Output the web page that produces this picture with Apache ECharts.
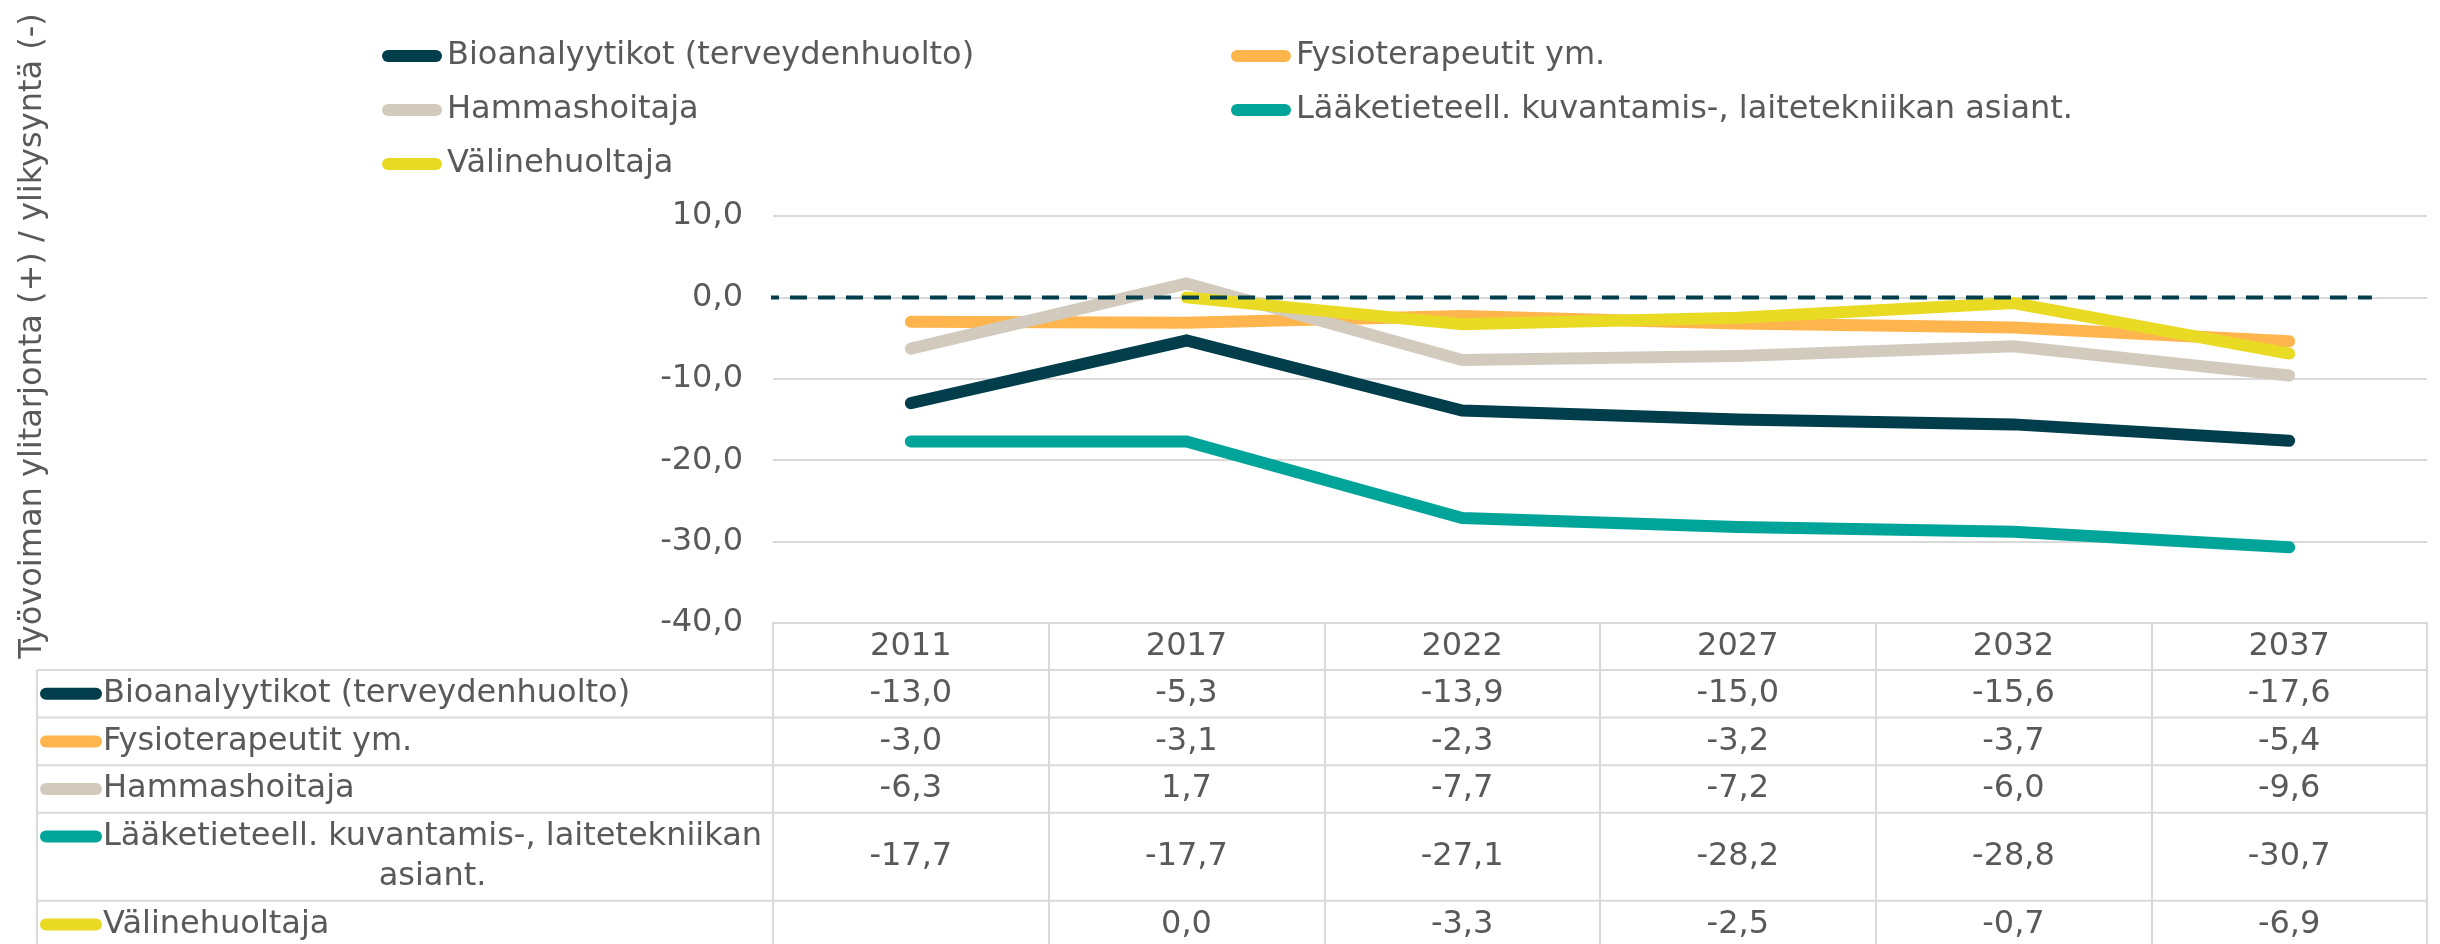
<!DOCTYPE html>
<html><head><meta charset="utf-8">
<script src="https://cdn.jsdelivr.net/npm/echarts@6/dist/echarts.min.js"></script>
<style>html,body{margin:0;padding:0;background:#fff}#c{width:2440px;height:944px}</style>
</head><body><div id="c"></div>
<script>
// ---------- DATA ----------
const years = ['2011', '2017', '2022', '2027', '2032', '2037'];
const seriesNames = [
  'Bioanalyytikot (terveydenhuolto)',
  'Fysioterapeutit ym.',
  'Hammashoitaja',
  'Lääketieteell. kuvantamis-, laitetekniikan asiant.',
  'Välinehuoltaja'
];
const bioanalyytikot = [-13.0, -5.3, -13.9, -15.0, -15.6, -17.6];
const fysioterapeutit = [-3.0, -3.1, -2.3, -3.2, -3.7, -5.4];
const hammashoitaja = [-6.3, 1.7, -7.7, -7.2, -6.0, -9.6];
const laaketieteell = [-17.7, -17.7, -27.1, -28.2, -28.8, -30.7];
const valinehuoltaja = [null, 0.0, -3.3, -2.5, -0.7, -6.9];
const yMin = -40, yMax = 10, yStep = 10;
const yAxisTitle = 'Työvoiman ylitarjonta (+) / ylikysyntä (-)';
const zeroLineX = [-0.54, 5.3];   // extent of the dashed zero reference line (category index units)
const zeroLineY = [0, 0];

// ---------- STYLE / LAYOUT ----------
const colors = ['#013D4B', '#FFB54D', '#D2CBBD', '#00A499', '#E9DA24'];
const textColor = '#595959';
const gridColor = '#D9D9D9';
const FONT = 'DejaVu Sans';
const FS = 32;
const W = 2440, H = 944;
const gridLeft = 773, gridRight = 13, gridTop = 216, gridBottom = 321;
const axisY = H - gridBottom;
const tableLeft = 37, tableRight = W - gridRight;
const keyX = 40, keyW = 62, keyH = 12, labelX = 103;
const headerH = 47, baseRowH = 47.6, extraLineH = 40.4;

const rows = [bioanalyytikot, fysioterapeutit, hammashoitaja, laaketieteell, valinehuoltaja];
const fmt = v => (v === null || v === undefined) ? '' : v.toFixed(1).replace('.', ',');

// measure & wrap row labels
const cv = document.createElement('canvas').getContext('2d');
cv.font = FS + 'px "' + FONT + '"';
function wrap(text, maxW) {
  const words = text.split(' ');
  const lines = [];
  let cur = '';
  words.forEach(w => {
    const t = cur ? cur + ' ' + w : w;
    if (cur && cv.measureText(t).width > maxW) { lines.push(cur); cur = w; } else cur = t;
  });
  if (cur) lines.push(cur);
  return lines;
}
const labelLines = seriesNames.map(n => wrap(n, gridLeft - labelX));
const rowHeights = labelLines.map(l => baseRowH + (l.length - 1) * extraLineH);

// rich styles for the x-axis (table) labels
const rich = { h: { fontSize: FS, color: textColor, fontFamily: FONT, lineHeight: headerH, align: 'center' } };
rowHeights.forEach((h, i) => { rich['r' + i] = { fontSize: FS, color: textColor, fontFamily: FONT, lineHeight: h, align: 'center' }; });

// graphics: table row lines, row labels with keys, y title
const graphics = [];
let y = axisY + headerH;
graphics.push({ type: 'line', shape: { x1: tableLeft, y1: y, x2: tableLeft, y2: H + 20 }, style: { stroke: gridColor, lineWidth: 2 }, silent: true });
labelLines.forEach((lines, i) => {
  graphics.push({ type: 'line', shape: { x1: tableLeft, y1: y, x2: tableRight, y2: y }, style: { stroke: gridColor, lineWidth: 2 }, silent: true });
  const h = rowHeights[i];
  const firstC = y + h / 2 - (lines.length - 1) * extraLineH / 2;
  graphics.push({ type: 'rect', shape: { x: keyX, y: firstC - keyH / 2, width: keyW, height: keyH, r: keyH / 2 }, style: { fill: colors[i] }, silent: true });
  if (lines.length === 1) {
    graphics.push({ type: 'text', x: labelX, y: firstC, style: { text: lines[0], fill: textColor, font: FS + 'px "' + FONT + '"', textAlign: 'left', textVerticalAlign: 'middle' }, silent: true });
  } else {
    const maxW = Math.max(...lines.map(l => cv.measureText(l).width));
    lines.forEach((l, k) => {
      graphics.push({ type: 'text', x: labelX + maxW / 2, y: firstC + k * extraLineH, style: { text: l, fill: textColor, font: FS + 'px "' + FONT + '"', textAlign: 'center', textVerticalAlign: 'middle' }, silent: true });
    });
  }
  y += h;
});
graphics.push({ type: 'line', shape: { x1: tableLeft, y1: y, x2: tableRight, y2: y }, style: { stroke: gridColor, lineWidth: 2 }, silent: true });
graphics.push({ type: 'text', x: 33, y: 336, rotation: Math.PI / 2, style: { text: yAxisTitle, fill: textColor, font: FS + 'px "' + FONT + '"', textAlign: 'center', textVerticalAlign: 'middle' }, silent: true });

const chart = echarts.init(document.getElementById('c'), null, { renderer: 'canvas' });
const legendCommon = {
  orient: 'vertical', top: 34, itemWidth: 60, itemHeight: keyH, itemGap: 20,
  icon: 'path://M6 0H54A6 6 0 0 1 54 12H6A6 6 0 0 1 6 0Z',
  selectedMode: false,
  textStyle: { fontSize: FS, color: textColor, fontFamily: FONT, lineHeight: 34 }
};
chart.setOption({
  animation: false,
  backgroundColor: '#fff',
  textStyle: { fontFamily: FONT },
  color: colors,
  legend: [
    Object.assign({}, legendCommon, { left: 377, data: [seriesNames[0], seriesNames[2], seriesNames[4]] }),
    Object.assign({}, legendCommon, { left: 1226, data: [seriesNames[1], seriesNames[3]] })
  ],
  grid: { left: gridLeft, right: gridRight, top: gridTop, bottom: gridBottom, containLabel: false },
  xAxis: [{
    type: 'category', data: years, boundaryGap: true, position: 'bottom',
    axisLine: { show: true, onZero: false, lineStyle: { color: gridColor, width: 2 } },
    axisTick: { show: true, alignWithLabel: false, interval: 0, length: 340, lineStyle: { color: gridColor, width: 2 } },
    axisLabel: {
      interval: 0, margin: 0, hideOverlap: false,
      formatter: (val, idx) => {
        let s = '{h|' + val + '}';
        rows.forEach((arr, r) => { s += '\n{r' + r + '|' + fmt(arr[idx]) + '}'; });
        return s;
      },
      rich: rich
    }
  }, {
    type: 'value', min: -0.5, max: 5.5, show: false
  }],
  yAxis: {
    type: 'value', min: yMin, max: yMax, interval: yStep,
    axisLine: { show: false }, axisTick: { show: false },
    axisLabel: { fontSize: FS, color: textColor, fontFamily: FONT, margin: 30, formatter: v => v.toFixed(1).replace('.', ',') },
    splitLine: { lineStyle: { color: gridColor, width: 2 } }
  },
  graphic: graphics,
  series: rows.map((arr, i) => ({
    name: seriesNames[i], type: 'line', data: arr, xAxisIndex: 0,
    showSymbol: false, symbol: 'none', connectNulls: false, z: 2 + i,
    lineStyle: { width: 12, color: colors[i], cap: 'round', join: 'miter' },
    itemStyle: { color: colors[i] }
  })).concat([{
    name: 'zero', type: 'line', xAxisIndex: 1, z: 10, showSymbol: false, symbol: 'none',
    data: zeroLineX.map((x, k) => [x, zeroLineY[k]]),
    lineStyle: { width: 4, color: colors[0], type: [17, 11], cap: 'butt' }
  }])
});
</script></body></html>
